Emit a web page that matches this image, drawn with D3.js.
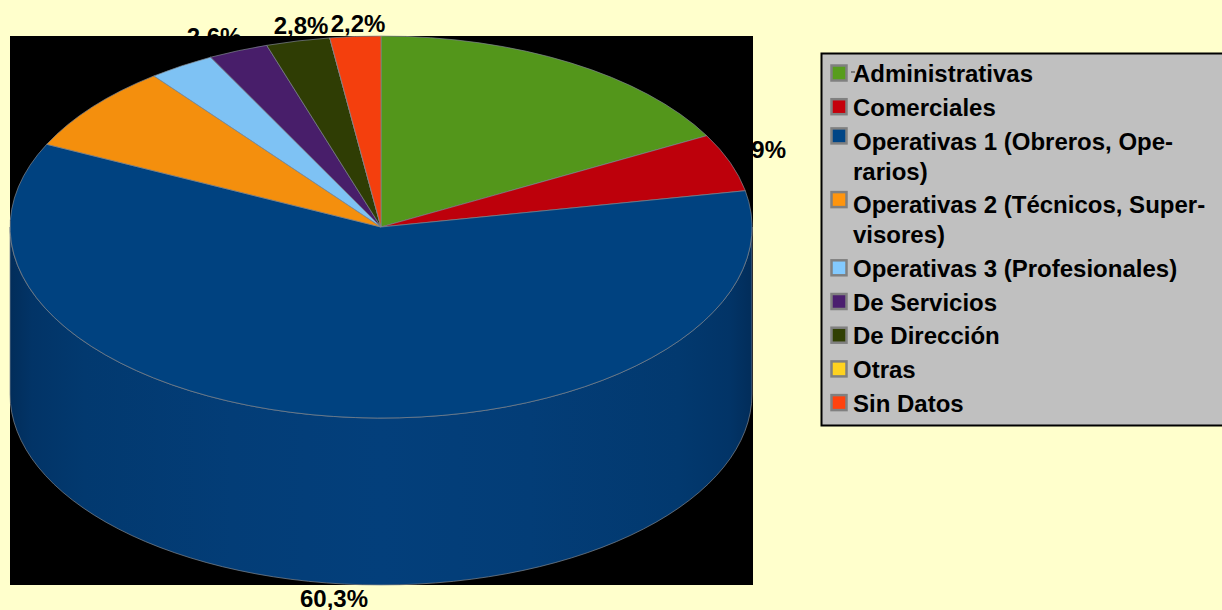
<!DOCTYPE html>
<html>
<head>
<meta charset="utf-8">
<script src="https://cdn.jsdelivr.net/npm/d3@7"></script>
<style>
  html, body { margin: 0; padding: 0; background: #ffffcc; overflow: hidden; }
  svg { display: block; }
  text { font-family: "Liberation Sans", Arial, sans-serif; font-weight: bold; fill: #000; }
</style>
</head>
<body>
<div id="chart"></div>
<script>
// Values
const categories = ['Administrativas', 'Comerciales', 'Operativas 1 (Obreros, Operarios)',
  'Operativas 2 (Técnicos, Supervisores)', 'Operativas 3 (Profesionales)', 'De Servicios',
  'De Dirección', 'Otras', 'Sin Datos'];
const values = [17.1, 4.9, 60.3, 7.4, 2.9, 2.6, 2.8, 0, 2.2];
const colors = ['#579d1c', '#c5000b', '#004586', '#ff950e', '#83caff', '#4b1f6f', '#314004', '#ffd320', '#ff420e'];
const legendLines = [['Administrativas'], ['Comerciales'], ['Operativas 1 (Obreros, Ope-', 'rarios)'],
  ['Operativas 2 (Técnicos, Super-', 'visores)'], ['Operativas 3 (Profesionales)'], ['De Servicios'],
  ['De Dirección'], ['Otras'], ['Sin Datos']];

const width = 1222, height = 610;
const plot = { x: 10, y: 36, w: 743, h: 549 };
const cx = 381, cy = 227, rx = 371, ry = 191, depth = 167;
const fmt = v => String(v).replace('.', ',') + '%';

const svg = d3.select('#chart').append('svg')
  .attr('width', width)
  .attr('height', height);

svg.append('rect')
  .attr('width', width)
  .attr('height', height)
  .attr('fill', '#ffffcc');

// Labels go under the black plot area, which cuts some of them off
const labelPos = [
  { i: 1, x: 786, y: 158, anchor: 'end' },
  { i: 2, x: 334, y: 606.5, anchor: 'middle' },
  { i: 5, x: 214, y: 45, anchor: 'middle' },
  { i: 6, x: 301, y: 34, anchor: 'middle' },
  { i: 8, x: 358, y: 32, anchor: 'middle' }
];
svg.append('g').selectAll('text')
  .data(labelPos)
  .join('text')
  .attr('x', d => d.x)
  .attr('y', d => d.y)
  .attr('text-anchor', d => d.anchor)
  .attr('font-size', 24)
  .text(d => fmt(values[d.i]));

svg.append('rect')
  .attr('x', plot.x)
  .attr('y', plot.y)
  .attr('width', plot.w)
  .attr('height', plot.h)
  .attr('fill', '#000');

// Shading round the side of the pie
const defs = svg.append('defs');
const grad = defs.append('linearGradient')
  .attr('id', 'wall')
  .attr('x1', 0).attr('x2', 1).attr('y1', 0).attr('y2', 0);
grad.selectAll('stop')
  .data([[0, '#022d5a'], [0.03, '#023467'], [0.1, '#02396f'], [0.3, '#033d77'], [0.5, '#033f7b'], [0.7, '#033d77'], [0.9, '#02396f'], [0.97, '#023467'], [1, '#022d5a']])
  .join('stop')
  .attr('offset', d => d[0])
  .attr('stop-color', d => d[1]);

svg.append('path')
  .attr('d', `M${cx + rx},${cy} L${cx + rx},${cy + depth} A${rx},${ry} 0 0 1 ${cx - rx},${cy + depth} L${cx - rx},${cy} A${rx},${ry} 0 0 0 ${cx + rx},${cy} Z`)
  .attr('fill', 'url(#wall)')
  .attr('stroke', '#808890')
  .attr('stroke-opacity', 0.7)
  .attr('stroke-width', 1);

// Top of the pie: unit arcs squashed into the ellipse
const pie = d3.pie().sort(null).value(d => d)(values);
const arc = d3.arc().innerRadius(0).outerRadius(1);

svg.append('g')
  .attr('transform', `translate(${cx},${cy}) scale(${rx},${ry})`)
  .selectAll('path')
  .data(pie)
  .join('path')
  .attr('d', arc)
  .attr('fill', (d, i) => d3.color(colors[i]).darker(0.12))
  .attr('stroke', '#808890')
  .attr('stroke-opacity', 0.7)
  .attr('stroke-width', 1)
  .attr('vector-effect', 'non-scaling-stroke');

// Legend
const legend = svg.append('g');
legend.append('rect')
  .attr('x', 821.5)
  .attr('y', 53.5)
  .attr('width', 420)
  .attr('height', 372)
  .attr('fill', '#c0c0c0')
  .attr('stroke', '#000')
  .attr('stroke-width', 2);

legend.append('line')
  .attr('x1', 851).attr('x2', 855)
  .attr('y1', 72).attr('y2', 72)
  .attr('stroke', '#333');

let baseline = 82.2;
legendLines.forEach((lines, i) => {
  legend.append('rect')
    .attr('x', 831.5)
    .attr('y', baseline - (lines.length > 1 ? 21.2 : 16.7))
    .attr('width', 15)
    .attr('height', 15)
    .attr('fill', colors[i])
    .attr('stroke', '#808080')
    .attr('stroke-width', 2.5);
  lines.forEach((t, j) => {
    legend.append('text')
      .attr('x', 853)
      .attr('y', baseline + j * 30)
      .attr('font-size', 24)
      .text(t);
  });
  baseline += 33.7 + (lines.length - 1) * 30;
});
</script>
</body>
</html>
